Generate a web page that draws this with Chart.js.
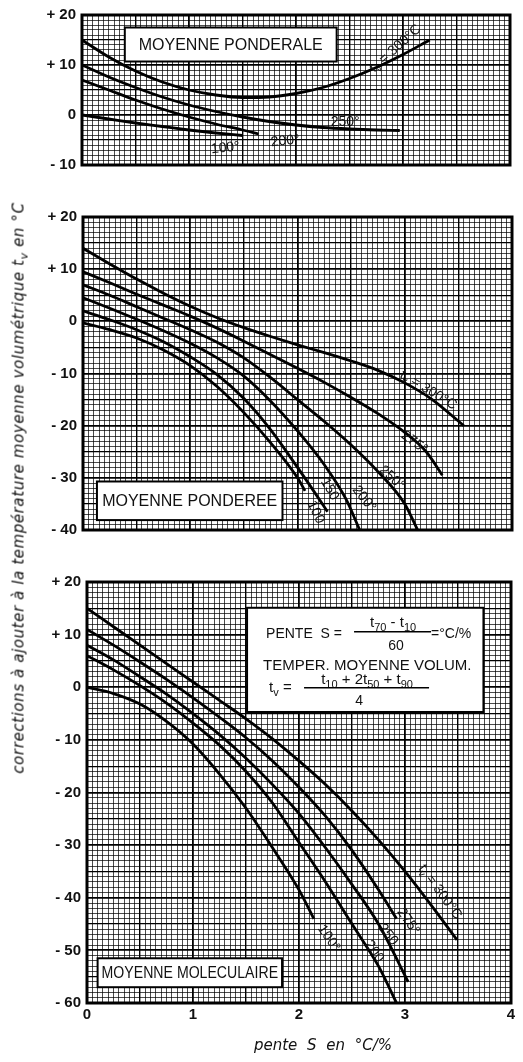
<!DOCTYPE html>
<html>
<head>
<meta charset="utf-8">
<script src="https://cdn.jsdelivr.net/npm/chart.js@4.4.1/dist/chart.umd.min.js"></script>
<style>
  body { margin: 0; background: #fff; }
  #page { position: relative; width: 523px; height: 1062px; overflow: hidden; background: #fff; }
  canvas { position: absolute; left: 0; }
  #ytitle {
    position: absolute; left: 20px; top: 488px;
    transform: translate(-50%, -50%) rotate(-90deg);
    white-space: nowrap; font: italic 15px "DejaVu Sans", sans-serif; color: #111; letter-spacing: 0.6px;
  }
  #ytitle sub { font-size: 11px; }
  #xtitle {
    position: absolute; left: 323px; top: 1045px;
    transform: translate(-50%, -50%);
    white-space: nowrap; font: italic 15px "DejaVu Sans", sans-serif; color: #111; word-spacing: 5px;
  }
</style>
</head>
<body>
<div id="page">
  <canvas id="c1" width="523" height="180" style="top:0px"></canvas>
  <canvas id="c2" width="523" height="345" style="top:200px"></canvas>
  <canvas id="c3" width="523" height="502" style="top:560px"></canvas>
  <div id="ytitle">corrections à ajouter à la température moyenne volumétrique t<sub>v</sub> en °C</div>
  <div id="xtitle">pente S en °C/%</div>
</div>
<script>
// curves: [pente S, correction °C]
// moyenne ponderale
var ponderale300 = [[0,15],[0.25,11.6],[0.5,8.8],[0.75,6.6],[1,5],[1.25,4],[1.5,3.5],[1.75,3.6],[2,4.3],[2.25,5.5],[2.5,7.3],[2.75,9.5],[3,12.1],[3.25,15]];
var ponderale250 = [[0,10],[0.25,7.6],[0.5,5.5],[0.75,3.6],[1,2],[1.25,0.7],[1.5,-0.4],[1.75,-1.3],[2,-2],[2.25,-2.5],[2.5,-2.8],[2.75,-3],[2.97,-3.1]];
var ponderale200 = [[0,7],[0.25,5],[0.5,3],[0.75,1.2],[1,-0.4],[1.25,-1.8],[1.5,-3],[1.65,-3.8]];
var ponderale100 = [[0,0],[0.25,-0.8],[0.5,-1.6],[0.75,-2.3],[1,-3],[1.25,-3.6],[1.5,-4.1]];

// moyenne ponderee
var ponderee300 = [[0,14],[0.25,11],[0.5,8.1],[0.75,5.4],[1,2.9],[1.25,0.7],[1.5,-1.2],[1.75,-2.9],[2,-4.5],[2.25,-6],[2.5,-7.6],[2.75,-9.4],[3,-11.8],[3.25,-14.9],[3.55,-20]];
var ponderee275 = [[0,9.5],[0.25,7.4],[0.5,5.2],[0.75,3.1],[1,1],[1.25,-1.3],[1.5,-3.8],[1.75,-6.4],[2,-9],[2.25,-11.7],[2.5,-14.6],[2.75,-17.7],[3,-21.3],[3.2,-25],[3.35,-29.5]];
var ponderee250 = [[0,7],[0.25,5],[0.5,2.8],[0.75,0.6],[1,-1.6],[1.25,-4],[1.5,-7],[1.75,-10.8],[2,-15],[2.25,-19.2],[2.5,-23.7],[2.75,-28.8],[3,-35],[3.12,-40]];
var ponderee200 = [[0,4.5],[0.25,2.5],[0.5,0.4],[0.75,-1.8],[1,-4.2],[1.25,-7],[1.5,-10.5],[1.75,-15.3],[2,-21],[2.25,-27.5],[2.45,-34],[2.58,-40]];
var ponderee150 = [[0,2],[0.25,0.3],[0.5,-1.6],[0.75,-3.9],[1,-6.8],[1.25,-10.2],[1.5,-14.8],[1.75,-20.8],[2,-28],[2.15,-32.5],[2.28,-36.5]];
var ponderee100 = [[0,-0.3],[0.25,-1.6],[0.5,-3.2],[0.75,-5.5],[1,-8.5],[1.25,-12.5],[1.5,-17.5],[1.75,-23.3],[2,-30],[2.07,-32.5]];

// moyenne moleculaire
var moleculaire300 = [[0,15],[0.25,11.5],[0.5,8],[0.75,4.5],[1,1],[1.25,-2.5],[1.5,-6],[1.75,-9.8],[2,-14],[2.25,-18.5],[2.5,-23.5],[2.75,-29],[3,-35],[3.25,-41.5],[3.49,-48]];
var moleculaire275 = [[0,11],[0.25,8],[0.5,4.8],[0.75,1.5],[1,-2],[1.25,-5.7],[1.5,-9.6],[1.75,-14],[2,-19],[2.25,-24.5],[2.5,-31],[2.75,-38.5],[2.92,-44]];
var moleculaire250 = [[0,8],[0.25,5.2],[0.5,2],[0.75,-1.3],[1,-5],[1.25,-9],[1.5,-13.5],[1.75,-18.5],[2,-24],[2.25,-30.5],[2.5,-37.5],[2.75,-45],[3.03,-56]];
var moleculaire200 = [[0,6],[0.25,3.3],[0.5,0.3],[0.75,-3],[1,-6.8],[1.25,-11],[1.5,-16],[1.75,-22],[2,-29.5],[2.25,-37],[2.5,-45],[2.75,-53],[2.92,-60]];
var moleculaire100 = [[0,0],[0.25,-1.2],[0.5,-3.2],[0.75,-6.5],[1,-10.8],[1.25,-16.5],[1.5,-23],[1.75,-30.5],[2,-38.5],[2.14,-44]];

var xTicks = [0, 1, 2, 3, 4];

var FONT = '"Liberation Sans", Arial, sans-serif';

// draw text with _{..} subscripts, returns width
function drawRich(ctx, str, x, y, size, weight, align) {
  var parts = [], re = /_\{([^}]*)\}/g, last = 0, m;
  while ((m = re.exec(str)) !== null) {
    if (m.index > last) parts.push({ t: str.slice(last, m.index), sub: false });
    parts.push({ t: m[1], sub: true });
    last = re.lastIndex;
  }
  if (last < str.length) parts.push({ t: str.slice(last), sub: false });
  var subSize = Math.round(size * 0.72);
  var total = 0;
  parts.forEach(function (p) {
    ctx.font = weight + ' ' + (p.sub ? subSize : size) + 'px ' + FONT;
    p.w = ctx.measureText(p.t).width;
    total += p.w;
  });
  var cx = align === 'center' ? x - total / 2 : x;
  ctx.textAlign = 'left';
  parts.forEach(function (p) {
    ctx.font = weight + ' ' + (p.sub ? subSize : size) + 'px ' + FONT;
    ctx.fillText(p.t, cx, p.sub ? y + size * 0.3 : y);
    cx += p.w;
  });
  return total;
}

var nomoPlugin = {
  id: 'nomo',
  beforeDatasetsDraw: function (chart, args, opts) {
    var ctx = chart.ctx, xs = chart.scales.x, ys = chart.scales.y;
    ctx.save();
    (opts.boxes || []).forEach(function (b) {
      var l = xs.getPixelForValue(b.x0), r = xs.getPixelForValue(b.x1);
      var t = ys.getPixelForValue(b.y0), btm = ys.getPixelForValue(b.y1);
      ctx.fillStyle = '#fff';
      ctx.fillRect(l, t, r - l, btm - t);
      ctx.strokeStyle = '#000';
      ctx.lineWidth = 2;
      ctx.strokeRect(l, t, r - l, btm - t);
      ctx.fillStyle = '#111';
      ctx.textBaseline = 'middle';
      if (b.text) {
        // squeeze the caption sideways if it is wider than the box
        ctx.font = 'normal 16px ' + FONT;
        var w = ctx.measureText(b.text).width, room = (r - l) - 8;
        var sx = w > room ? room / w : 1;
        ctx.save();
        ctx.translate((l + r) / 2, (t + btm) / 2 + 1);
        ctx.scale(sx, 1);
        drawRich(ctx, b.text, 0, 0, 16, 'normal', 'center');
        ctx.restore();
      }
      if (b.formula) {
        ctx.textBaseline = 'alphabetic';
        drawRich(ctx, 'PENTE  S =', l + 19, t + 30, 14, 'normal', 'left');
        drawRich(ctx, 't_{70} - t_{10}', l + 146, t + 19, 15, 'normal', 'center');
        drawRich(ctx, '60', l + 149, t + 42, 14, 'normal', 'center');
        drawRich(ctx, '=°C/%', l + 184, t + 30, 14, 'normal', 'left');
        drawRich(ctx, 'TEMPER. MOYENNE VOLUM.', l + (r - l) / 2 + 2, t + 62, 15, 'normal', 'center');
        drawRich(ctx, 't_{v} =', l + 22, t + 84, 15, 'normal', 'left');
        drawRich(ctx, 't_{10} + 2t_{50} + t_{90}', l + 120, t + 76, 15, 'normal', 'center');
        drawRich(ctx, '4', l + 112, t + 97, 14, 'normal', 'center');
        ctx.lineWidth = 1.6;
        ctx.beginPath();
        ctx.moveTo(l + 107, t + 24); ctx.lineTo(l + 184, t + 24);
        ctx.moveTo(l + 57, t + 80); ctx.lineTo(l + 182, t + 80);
        ctx.stroke();
      }
    });
    ctx.restore();
  },
  afterDatasetsDraw: function (chart, args, opts) {
    var ctx = chart.ctx, xs = chart.scales.x, ys = chart.scales.y, a = chart.chartArea;
    ctx.save();
    ctx.fillStyle = '#111';
    ctx.textBaseline = 'middle';
    (opts.labels || []).forEach(function (lb) {
      ctx.save();
      ctx.translate(xs.getPixelForValue(lb.x), ys.getPixelForValue(lb.y));
      ctx.rotate(lb.rot * Math.PI / 180);
      drawRich(ctx, lb.text, 0, 0, 14, 'normal', 'center');
      ctx.restore();
    });
    ctx.strokeStyle = '#000';
    ctx.lineWidth = 3;
    ctx.strokeRect(a.left, a.top, a.right - a.left, a.bottom - a.top);
    ctx.restore();
  }
};

function yLabel(v) {
  var k = Math.round(v);
  if (k % 10 !== 0) return '';
  if (k > 0) return '+ ' + k;
  if (k < 0) return '- ' + (-k);
  return '0';
}

function curve(points) {
  return {
    data: points,
    borderColor: '#000',
    borderWidth: 2.8,
    pointRadius: 0,
    fill: false,
    cubicInterpolationMode: 'monotone'
  };
}

function makePanel(id, curves, yMin, yMax, yWidth, pad, showX, nomo) {
  return new Chart(document.getElementById(id), {
    type: 'line',
    data: { datasets: curves.map(curve) },
    options: {
      responsive: false,
      devicePixelRatio: 1,
      animation: false,
      layout: { padding: pad },
      plugins: { legend: { display: false }, tooltip: { enabled: false }, nomo: nomo },
      scales: {
        x: {
          type: 'linear', min: 0, max: 4,
          border: { display: false },
          grid: {
            drawTicks: false,
            color: function (c) {
              var k = Math.round(c.tick.value * 20);
              return k % 10 === 0 ? '#000' : 'rgba(0,0,0,0.7)';
            },
            lineWidth: function (c) {
              var k = Math.round(c.tick.value * 20);
              if (k % 20 === 0) return 1.8;
              if (k % 10 === 0) return 1.4;
              return 1;
            }
          },
          ticks: {
            display: showX, stepSize: 0.05, autoSkip: false, maxRotation: 0, minRotation: 0,
            padding: 3, color: '#111', font: { family: FONT, size: 15, weight: 'bold' },
            callback: function (v) {
              var k = Math.round(v * 20);
              return (k % 20 === 0 && xTicks.indexOf(k / 20) >= 0) ? String(k / 20) : '';
            }
          },
          afterFit: function (s) { s.height = showX ? 59 : 0; }
        },
        y: {
          min: yMin, max: yMax,
          border: { display: false },
          grid: {
            drawTicks: false,
            color: function (c) {
              var k = Math.round(c.tick.value);
              return k % 5 === 0 ? '#000' : 'rgba(0,0,0,0.7)';
            },
            lineWidth: function (c) {
              var k = Math.round(c.tick.value);
              if (k % 10 === 0) return 1.8;
              if (k % 5 === 0) return 1.3;
              return 1;
            }
          },
          ticks: {
            stepSize: 1, autoSkip: false, padding: 6, color: '#111',
            font: { family: FONT, size: 15, weight: 'bold' },
            callback: yLabel
          },
          afterFit: function (s) { s.width = yWidth; }
        }
      }
    },
    plugins: [nomoPlugin]
  });
}

makePanel('c1', [ponderale300, ponderale250, ponderale200, ponderale100], -10, 20, 82,
  { top: 15, bottom: 10, left: 0, right: 13 }, false, {
    boxes: [{ x0: 0.4, x1: 2.38, y0: 17.5, y1: 10.7, text: 'MOYENNE PONDERALE' }],
    labels: [
      { text: 't_{v} = 300°C', x: 2.93, y: 13.3, rot: -42 },
      { text: '250°', x: 2.46, y: -1.4, rot: 0 },
      { text: '200°', x: 1.9, y: -5.2, rot: -6 },
      { text: '100°', x: 1.34, y: -6.6, rot: -6 }
    ]
  });

makePanel('c2', [ponderee300, ponderee275, ponderee250, ponderee200, ponderee150, ponderee100], -40, 20, 83,
  { top: 17, bottom: 13, left: 0, right: 11 }, false, {
    boxes: [{ x0: 0.13, x1: 1.86, y0: -30.7, y1: -38.1, text: 'MOYENNE PONDEREE' }],
    labels: [
      { text: 't_{v} = 300°C', x: 3.22, y: -13.2, rot: 31 },
      { text: '275°', x: 3.09, y: -23.2, rot: 36 },
      { text: '250°', x: 2.88, y: -30, rot: 42 },
      { text: '200°', x: 2.62, y: -34, rot: 52 },
      { text: '150', x: 2.3, y: -32.2, rot: 60 },
      { text: '100', x: 2.17, y: -36.6, rot: 65 }
    ]
  });

makePanel('c3', [moleculaire300, moleculaire275, moleculaire250, moleculaire200, moleculaire100], -60, 20, 87,
  { top: 22, bottom: 0, left: 0, right: 12 }, true, {
    boxes: [
      { x0: 1.51, x1: 3.74, y0: 15.1, y1: -4.7, formula: true },
      { x0: 0.1, x1: 1.84, y0: -51.5, y1: -57, text: 'MOYENNE MOLECULAIRE' }
    ],
    labels: [
      { text: 't_{v} = 300°C', x: 3.33, y: -38.9, rot: 54 },
      { text: '275°', x: 3.03, y: -44.5, rot: 55 },
      { text: '250', x: 2.84, y: -47, rot: 52 },
      { text: '200', x: 2.71, y: -50.2, rot: 55 },
      { text: '100°', x: 2.28, y: -47.7, rot: 55 }
    ]
  });
</script>
</body>
</html>
